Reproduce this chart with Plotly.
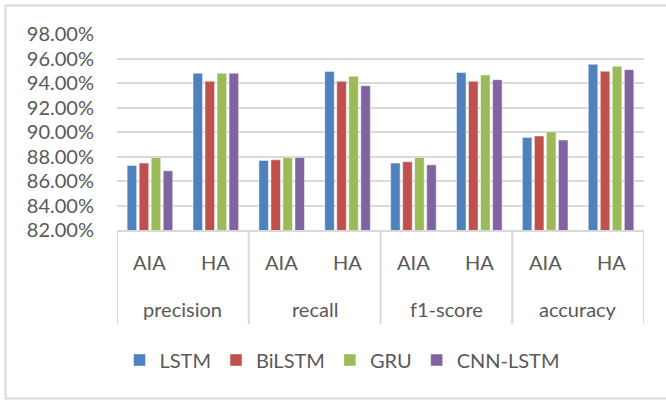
import plotly.graph_objects as go

# Evaluation results (%) per metric and dataset
metrics = ["precision", "recall", "f1-score", "accuracy"]
datasets = ["AIA", "HA"]
models = ["LSTM", "BiLSTM", "GRU", "CNN-LSTM"]
colors = ["#4F81BD", "#C0504D", "#9BBB59", "#8064A2"]

lstm = [87.26, 94.80, 87.67, 94.93, 87.46, 94.85, 89.56, 95.53]
bilstm = [87.46, 94.14, 87.73, 94.14, 87.57, 94.14, 89.67, 94.96]
gru = [87.92, 94.80, 87.92, 94.55, 87.92, 94.66, 90.03, 95.36]
cnn_lstm = [86.83, 94.80, 87.92, 93.78, 87.32, 94.27, 89.34, 95.09]
series = [lstm, bilstm, gru, cnn_lstm]

y_ticks = [82, 84, 86, 88, 90, 92, 94, 96, 98]

# page geometry
W, H = 666, 401
ML, MR, MT, MB = 117, 22, 34, 171
PW, PH = W - ML - MR, H - MT - MB

def px_x(p):
    return (p - ML) / PW

def px_y(p):
    return (H - MB - p) / PH

cats = [f"{m} {d}" for m in metrics for d in datasets]

FONT = "Lato"
TXT = "#595959"
GRID = "#d9d9d9"

fig = go.Figure()
for name, vals, col in zip(models, series, colors):
    fig.add_trace(go.Bar(
        name=name, x=cats, y=[v / 100 for v in vals],
        marker=dict(color=col, line=dict(color="rgba(255,255,255,0.45)", width=1)),
    ))

shapes = []
# category box: vertical dividers between metric groups
n_sub = len(datasets)
for k in range(len(metrics) + 1):
    xb = k * n_sub - 0.5
    shapes.append(dict(type="line", xref="x", yref="paper", x0=xb, x1=xb,
                       y0=0, y1=px_y(324), line=dict(color=GRID, width=2)))
# outer chart border (right edge runs past the page)
shapes.append(dict(type="rect", xref="paper", yref="paper",
                   x0=px_x(5.5), x1=px_x(672), y0=px_y(398.5), y1=px_y(5.5),
                   line=dict(color=GRID, width=2), fillcolor="rgba(0,0,0,0)", layer="below"))

annotations = []
for i, c in enumerate(cats):
    annotations.append(dict(x=i, y=0, xref="x", yref="paper", text=datasets[i % n_sub],
                            showarrow=False, yanchor="middle", yshift=-32,
                            font=dict(family=FONT, size=20, color=TXT)))
for k, m in enumerate(metrics):
    annotations.append(dict(x=k * n_sub + (n_sub - 1) / 2, y=0, xref="x", yref="paper", text=m,
                            showarrow=False, yanchor="middle", yshift=-79,
                            font=dict(family=FONT, size=20, color=TXT)))

fig.update_layout(
    width=W, height=H,
    margin=dict(l=ML, r=MR, t=MT, b=MB),
    paper_bgcolor="white", plot_bgcolor="white",
    barmode="group", bargap=0.27, bargroupgap=0.21,
    font=dict(family=FONT, size=20, color=TXT),
    showlegend=True,
    legend=dict(orientation="h", x=px_x(342), xanchor="center", y=px_y(360), yanchor="middle",
                font=dict(family=FONT, size=20, color=TXT), traceorder="normal"),
    shapes=shapes,
    annotations=annotations,
)
fig.update_xaxes(type="category", range=[-0.5, len(cats) - 0.5], showticklabels=False,
                 showgrid=False, showline=True, linecolor=GRID, linewidth=2, ticks="")
fig.update_yaxes(range=[0.82, 0.98], tickvals=[t / 100 for t in y_ticks], tickformat=".2%",
                 showgrid=True, gridcolor=GRID, gridwidth=2, zeroline=False, showline=False,
                 ticks="", ticklabelstandoff=22, tickfont=dict(family=FONT, size=20, color=TXT))

fig.write_html("out.html")
